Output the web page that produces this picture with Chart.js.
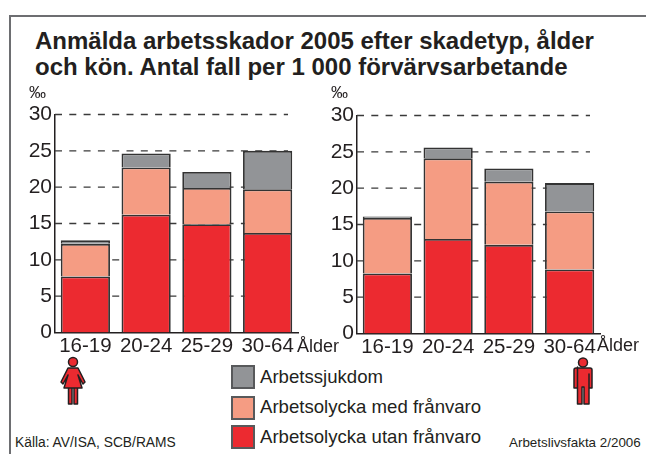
<!DOCTYPE html>
<html>
<head>
<meta charset="utf-8">
<script src="https://cdn.jsdelivr.net/npm/chart.js@4"></script>
<style>
  html, body { margin: 0; padding: 0; background: #fff; }
  body { width: 646px; height: 454px; position: relative; overflow: hidden; font-family: "Liberation Sans", Arial, sans-serif; color: #231f20; }
  .frame { position: absolute; left: 9px; top: 15px; width: 660px; height: 460px; border: 2px solid #6d6e71; box-sizing: border-box; }
  .t { position: absolute; white-space: nowrap; }
  h1 { position: absolute; left: 35px; top: 28px; margin: 0; font-size: 24px; line-height: 26px; font-weight: bold; white-space: nowrap; }
  canvas { position: absolute; }
  .swatch { position: absolute; left: 231px; width: 24px; height: 24px; box-sizing: border-box; border: 2px solid #58595b; }
  .lg { left: 260px; font-size: 18.6px; }
</style>
</head>
<body>
<div class="frame"></div>
<h1>Anmälda arbetsskador 2005 efter skadetyp, ålder<br>och kön. Antal fall per 1 000 förvärvsarbetande</h1>

<canvas id="womenChart" style="left:0;top:86px"></canvas>
<canvas id="menChart" style="left:302px;top:87px"></canvas>

<div class="t" style="left:29px;top:83px;font-size:17px">‰</div>
<div class="t" style="left:331px;top:83px;font-size:17px">‰</div>
<div class="t" style="left:297px;top:336px;font-size:18px">Ålder</div>
<div class="t" style="left:597px;top:335px;font-size:18px">Ålder</div>

<div class="swatch" style="top:365px;background:#929497"></div>
<div class="swatch" style="top:396px;background:#f59c83"></div>
<div class="swatch" style="top:425px;background:#ec2a30"></div>
<div class="t lg" style="top:366px">Arbetssjukdom</div>
<div class="t lg" style="top:396px">Arbetsolycka med frånvaro</div>
<div class="t lg" style="top:426px">Arbetsolycka utan frånvaro</div>
<div class="t" style="left:15px;top:435px;font-size:13.8px">Källa: AV/ISA, SCB/RAMS</div>
<div class="t" style="left:509px;top:435px;font-size:13.4px">Arbetslivsfakta 2/2006</div>

<svg style="position:absolute;left:50px;top:355px" width="46" height="52">
  <g fill="#ec2a30" stroke="#231f20" stroke-width="1.5" stroke-linejoin="round">
    <circle cx="23" cy="7" r="4.5"/>
    <rect x="18.5" y="31" width="3.5" height="18"/>
    <rect x="24" y="31" width="3.5" height="18"/>
    <path d="M18 13H28L35 27 33 29 28 20 32 33H14L18 20 13 29 11 27Z"/>
  </g>
</svg>
<svg style="position:absolute;left:565px;top:355px" width="36" height="52">
  <g fill="#ec2a30" stroke="#231f20" stroke-width="1.5" stroke-linejoin="round">
    <circle cx="18" cy="7.5" r="4.5"/>
    <path d="M11 13H25Q27 13 27 15V33H24V19 23.5 49H19V32H17V49H12.5V19 12V33H9V15Q9 13 11 13Z"/>
  </g>
</svg>

<script>
const ageGroups = ['16-19', '20-24', '25-29', '30-64'];
const yTicks = [0, 5, 10, 15, 20, 25, 30];

// stacked values, per 1000 employed
const womenUtan = [7.7, 16.2, 14.9, 13.7];
const womenMed = [4.5, 6.5, 5.0, 6.0];
const womenSjuk = [0.5, 1.95, 2.2, 5.3];

const menUtan = [8.25, 13.0, 12.2, 8.8];
const menMed = [7.65, 11.1, 8.7, 8.0];
const menSjuk = [0.2, 1.5, 1.8, 3.9];

const colors = { utan: '#ec2a30', med: '#f59c83', sjuk: '#929497' };

// dashed lines stop a little short of the last bar, so not using the built in grid
const dashedGrid = {
  id: 'dashedGrid',
  beforeDatasetsDraw(chart) {
    const { ctx, scales: { x, y } } = chart;
    ctx.save();
    ctx.strokeStyle = '#3a3a3a';
    ctx.lineWidth = 1.4;
    ctx.setLineDash([7, 7.3]);
    yTicks.slice(1).forEach(t => {
      const py = y.getPixelForValue(t);
      ctx.beginPath();
      ctx.moveTo(x.left, py);
      ctx.lineTo(x.right - 10, py);
      ctx.stroke();
    });
    ctx.restore();
  }
};

const createChart = (id, utan, med, sjuk) => {
  const canvas = document.getElementById(id);
  canvas.width = 300;
  canvas.height = 275;
  const makeSet = (label, data, color) => ({
    label,
    data,
    backgroundColor: color,
    borderColor: '#333333',
    borderWidth: 1.8,
    barPercentage: 0.81,
    categoryPercentage: 1,
  });
  return new Chart(canvas.getContext('2d'), {
    type: 'bar',
    data: {
      labels: ageGroups,
      datasets: [
        makeSet('Arbetsolycka utan frånvaro', utan, colors.utan),
        makeSet('Arbetsolycka med frånvaro', med, colors.med),
        makeSet('Arbetssjukdom', sjuk, colors.sjuk),
      ],
    },
    plugins: [dashedGrid],
    options: {
      responsive: false,
      animation: false,
      layout: { padding: { left: 0, right: 2, top: 28.5, bottom: 0 } },
      plugins: { legend: { display: false }, tooltip: { enabled: false } },
      scales: {
        x: {
          stacked: true,
          afterFit(scale) { scale.height = 28.5; },
          grid: { display: false, drawTicks: false },
          border: { color: '#231f20', width: 1.5 },
          ticks: { color: '#231f20', font: { family: 'Liberation Sans', size: 20.5 }, padding: 2, maxRotation: 0, autoSkip: false },
        },
        y: {
          stacked: true,
          min: 0,
          max: 30,
          afterFit(scale) { scale.width = 55; },
          grid: { display: false, drawTicks: false },
          border: { color: '#231f20', width: 1.5 },
          ticks: { stepSize: 5, color: '#231f20', font: { family: 'Liberation Sans', size: 21 }, padding: 3 },
        },
      },
    },
  });
};

createChart('womenChart', womenUtan, womenMed, womenSjuk);
createChart('menChart', menUtan, menMed, menSjuk);
</script>
</body>
</html>
